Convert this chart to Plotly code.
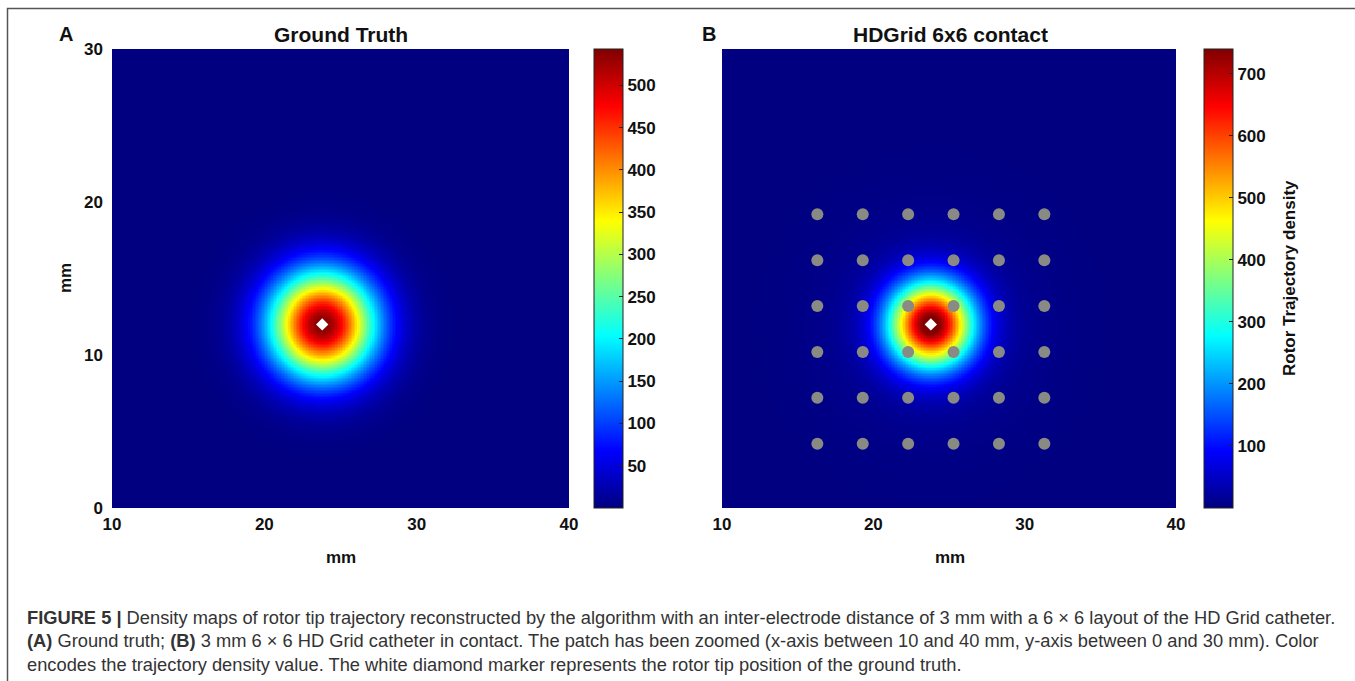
import numpy as np
import plotly.graph_objects as go

# ---- data -------------------------------------------------------------
# rotor tip position of the ground truth (mm)
rotor_tip_x = [23.8]
rotor_tip_y = [12.0]

# density model parameters for the two maps
gt_peak = 543.0        # ground-truth density peak
gt_sigma = 2.4         # mm
hd_peak = 740.0        # HD Grid reconstruction peak
hd_sigma = 1.9         # mm
hd_halo_amp = 30.0     # faint wide halo of the reconstruction
hd_halo_sigma = 4.5    # mm

# 6x6 HD Grid electrode positions (mm), 3 mm spacing
electrode_x = [16.3, 19.3, 22.3, 25.3, 28.3, 31.3]
electrode_y = [4.2, 7.2, 10.2, 13.2, 16.2, 19.2]

# axis ticks
x_ticks = [10, 20, 30, 40]
y_ticks = [0, 10, 20, 30]
gt_cbar_ticks = [50, 100, 150, 200, 250, 300, 350, 400, 450, 500]
hd_cbar_ticks = [100, 200, 300, 400, 500, 600, 700]

# ---- density fields ---------------------------------------------------
gx = np.linspace(10, 40, 301)
gy = np.linspace(0, 30, 301)
GX, GY = np.meshgrid(gx, gy)
R2 = (GX - rotor_tip_x[0]) ** 2 + (GY - rotor_tip_y[0]) ** 2
z_gt = gt_peak * np.exp(-R2 / (2 * gt_sigma ** 2))
z_hd = hd_peak * np.exp(-R2 / (2 * hd_sigma ** 2)) + hd_halo_amp * np.exp(-R2 / (2 * hd_halo_sigma ** 2))

# MATLAB-style jet colormap
jet = [
    [0.0, "rgb(0,0,128)"],
    [0.125, "rgb(0,0,255)"],
    [0.375, "rgb(0,255,255)"],
    [0.625, "rgb(255,255,0)"],
    [0.875, "rgb(255,0,0)"],
    [1.0, "rgb(128,0,0)"],
]

W, H = 1355, 681


def px(x):
    return x / W


def py(y):
    return 1 - y / H


FONT = "Liberation Sans, Arial, sans-serif"
bold17 = dict(family=FONT, size=17, color="#111111", weight="bold")
bold21 = dict(family=FONT, size=21, color="#111111", weight="bold")
bold20 = dict(family=FONT, size=20, color="#111111", weight="bold")

plot_top, plot_bot = 49, 508
cbar_len = (plot_bot - plot_top) / H
cbar_y = py((plot_top + plot_bot) / 2)

fig = go.Figure()

fig.add_trace(go.Heatmap(
    x=gx, y=gy, z=z_gt, colorscale=jet, zmin=0, zmax=gt_peak,
    xaxis="x", yaxis="y", hoverinfo="skip",
    colorbar=dict(
        x=px(594), xanchor="left", xpad=0, ypad=0,
        y=cbar_y, yanchor="middle", len=cbar_len, lenmode="fraction",
        thickness=29, outlinewidth=1, outlinecolor="#222222",
        tickvals=gt_cbar_ticks, ticks="inside", ticklen=4, tickcolor="#222222",
        tickfont=bold17,
    ),
))

fig.add_trace(go.Heatmap(
    x=gx, y=gy, z=z_hd, colorscale=jet, zmin=0, zmax=hd_peak,
    xaxis="x2", yaxis="y2", hoverinfo="skip",
    colorbar=dict(
        x=px(1204), xanchor="left", xpad=0, ypad=0,
        y=cbar_y, yanchor="middle", len=cbar_len, lenmode="fraction",
        thickness=29, outlinewidth=1, outlinecolor="#222222",
        tickvals=hd_cbar_ticks, ticks="inside", ticklen=4, tickcolor="#222222",
        tickfont=bold17,
    ),
))

# electrodes of the HD Grid catheter
ex = [x for y in electrode_y for x in electrode_x]
ey = [y for y in electrode_y for x in electrode_x]
fig.add_trace(go.Scatter(
    x=ex, y=ey, mode="markers", xaxis="x2", yaxis="y2",
    marker=dict(size=12, color="rgb(138,138,132)", line=dict(width=0)),
    hoverinfo="skip", showlegend=False,
))

# rotor tip (ground truth) markers
for xa, ya in (("x", "y"), ("x2", "y2")):
    fig.add_trace(go.Scatter(
        x=rotor_tip_x, y=rotor_tip_y, mode="markers", xaxis=xa, yaxis=ya,
        marker=dict(symbol="diamond", size=9.5, color="white", line=dict(width=0)),
        hoverinfo="skip", showlegend=False,
    ))

ydom = [py(plot_bot), py(plot_top)]
axis_common = dict(showgrid=False, zeroline=False, ticks="", showline=False,
                   automargin=False, tickfont=bold17)

fig.update_layout(
    width=W, height=H,
    margin=dict(l=0, r=0, t=0, b=0, autoexpand=False),
    paper_bgcolor="white", plot_bgcolor="white",
    showlegend=False,
    xaxis=dict(domain=[px(112), px(569)], range=[10, 40], tickvals=x_ticks,
               anchor="y", ticklabelstandoff=4, **axis_common),
    yaxis=dict(domain=ydom, range=[0, 30], tickvals=y_ticks, anchor="x",
               ticklabelstandoff=8, **axis_common),
    xaxis2=dict(domain=[px(722), px(1176)], range=[10, 40], tickvals=x_ticks,
                anchor="y2", ticklabelstandoff=4, **axis_common),
    yaxis2=dict(domain=ydom, range=[0, 30], tickvals=y_ticks, showticklabels=False,
                anchor="x2", showgrid=False, zeroline=False, ticks="",
                showline=False, automargin=False),
)

annotations = [
    dict(text="Ground Truth", x=px(341), y=py(35), font=bold21),
    dict(text="HDGrid 6x6 contact", x=px(950), y=py(35), font=bold21),
    dict(text="A", x=px(66), y=py(34), font=bold20),
    dict(text="B", x=px(709), y=py(34), font=bold20),
    dict(text="mm", x=px(341), y=py(557), font=bold17),
    dict(text="mm", x=px(950), y=py(557), font=bold17),
    dict(text="mm", x=px(65), y=py(278), textangle=-90, font=bold17),
    dict(text="Rotor Trajectory density", x=px(1289), y=py(278), textangle=-90, font=bold17),
]
for a in annotations:
    fig.add_annotation(xref="paper", yref="paper", showarrow=False,
                       xanchor="center", yanchor="middle", **a)

caption_lines = [
    "<b>FIGURE 5 |</b> Density maps of rotor tip trajectory reconstructed by the algorithm "
    "with an inter-electrode distance of 3 mm with a 6 \u00d7 6 layout of the HD Grid catheter.",
    "<b>(A)</b> Ground truth; <b>(B)</b> 3 mm 6 \u00d7 6 HD Grid catheter in contact. The patch has "
    "been zoomed (x-axis between 10 and 40 mm, y-axis between 0 and 30 mm). Color",
    "encodes the trajectory density value. The white diamond marker represents the rotor tip "
    "position of the ground truth.",
]
for i, line in enumerate(caption_lines):
    fig.add_annotation(xref="paper", yref="paper", showarrow=False,
                       x=px(25), y=py(617 + 23.5 * i), xanchor="left", yanchor="middle",
                       text=line, font=dict(family=FONT, size=18.3, color="#333333"))

# frame around the figure
fig.add_shape(type="rect", xref="paper", yref="paper",
              x0=px(7.5), x1=px(1370), y0=py(8.5), y1=py(700),
              line=dict(color="#555555", width=1.5), fillcolor="rgba(0,0,0,0)")

fig.write_html("out.html")
